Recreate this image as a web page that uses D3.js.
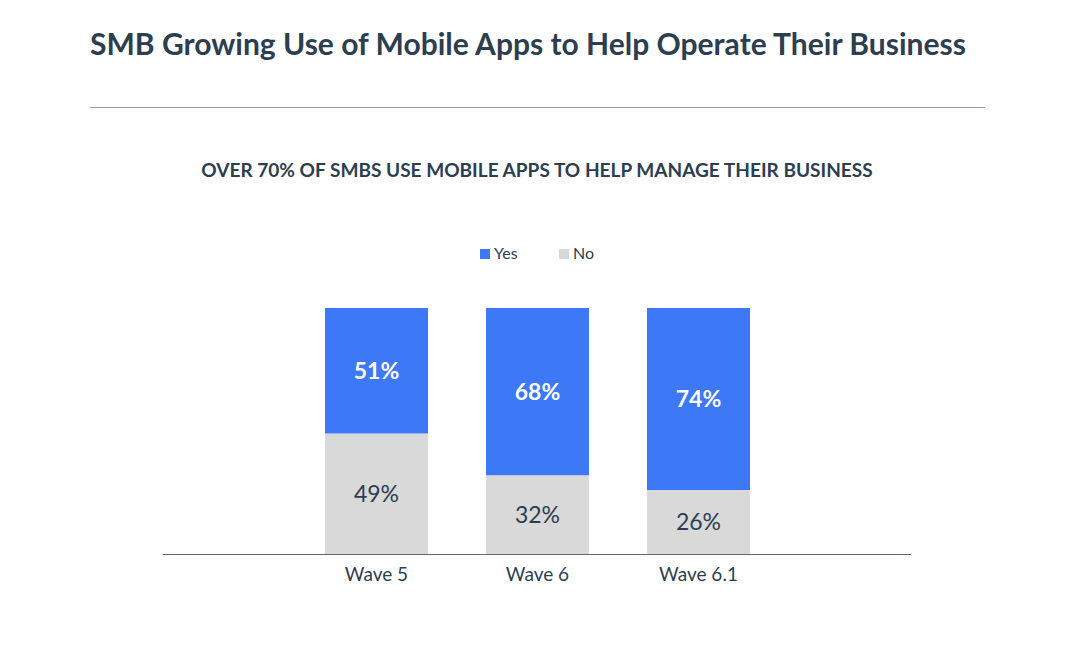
<!DOCTYPE html>
<html>
<head>
<meta charset="utf-8">
<script src="https://cdn.jsdelivr.net/npm/d3@7"></script>
<style>
  html, body { margin: 0; padding: 0; background: #fff; }
  svg { display: block; }
  text { font-family: Lato, "Open Sans", sans-serif; }
</style>
</head>
<body>
<div id="chart"></div>
<script>
const canvas = { w: 1070, h: 658 };

const categories = ["Wave 5", "Wave 6", "Wave 6.1"];
const seriesNames = ["Yes", "No"];
const yesValues = [51, 68, 74];
const noValues = [49, 32, 26];

const titleText = "SMB Growing Use of Mobile Apps to Help Operate Their Business";
const subtitleText = "OVER 70% OF SMBS USE MOBILE APPS TO HELP MANAGE THEIR BUSINESS";

const colors = { Yes: "#3d78f7", No: "#d9d9d9" };
const ink = "#2c3e50";

const rows = categories.map((c, i) => ({ wave: c, Yes: yesValues[i], No: noValues[i] }));
// No at the bottom, Yes stacked on top
const stack = d3.stack().keys(["No", "Yes"]);
const layers = stack(rows);

const svg = d3.select("#chart")
  .append("svg")
  .attr("width", canvas.w)
  .attr("height", canvas.h)
  .attr("viewBox", `0 0 ${canvas.w} ${canvas.h}`);

// fit text to a measured width from the reference
function fitWidth(sel, target) {
  const w = sel.node().getComputedTextLength();
  const fs = parseFloat(sel.attr("font-size"));
  sel.attr("font-size", fs * target / w);
}

const title = svg.append("text")
  .attr("x", 90)
  .attr("y", 55)
  .attr("font-size", 28)
  .attr("font-weight", 700)
  .attr("fill", ink)
  .text(titleText);
fitWidth(title, 876);

svg.append("line")
  .attr("x1", 90).attr("x2", 985)
  .attr("y1", 107.5).attr("y2", 107.5)
  .attr("stroke", "#97a1ad")
  .attr("stroke-width", 1);

const subtitle = svg.append("text")
  .attr("x", 537)
  .attr("y", 177)
  .attr("text-anchor", "middle")
  .attr("font-size", 17)
  .attr("font-weight", 700)
  .attr("fill", ink)
  .text(subtitleText);
fitWidth(subtitle, 672);

const x = d3.scaleBand()
  .domain(categories)
  .range([296, 779])
  .paddingInner(0.36)
  .paddingOuter(0.18);

const y = d3.scaleLinear()
  .domain([0, 100])
  .range([554, 308]);

// legend
const legend = svg.append("g").attr("transform", "translate(480,249)");
const legendX = [0, 79];
seriesNames.forEach((s, i) => {
  const g = legend.append("g").attr("transform", `translate(${legendX[i]},0)`);
  g.append("rect").attr("width", 10).attr("height", 10).attr("fill", colors[s]);
  g.append("text")
    .attr("x", 14).attr("y", 10)
    .attr("font-size", 16)
    .attr("fill", ink)
    .text(s);
});

// bars
const layerG = svg.append("g")
  .selectAll("g")
  .data(layers)
  .join("g")
  .attr("fill", d => colors[d.key]);

layerG.selectAll("rect")
  .data(d => d)
  .join("rect")
  .attr("x", d => x(d.data.wave))
  .attr("width", x.bandwidth())
  .attr("y", d => y(d[1]))
  .attr("height", d => y(d[0]) - y(d[1]));

layerG.selectAll("text")
  .data(d => d.map(p => ({ p, key: d.key })))
  .join("text")
  .attr("x", d => x(d.p.data.wave) + x.bandwidth() / 2)
  .attr("y", d => (y(d.p[0]) + y(d.p[1])) / 2)
  .attr("dy", "0.36em")
  .attr("text-anchor", "middle")
  .attr("font-size", 23)
  .attr("font-weight", d => d.key === "Yes" ? 700 : 400)
  .attr("fill", d => d.key === "Yes" ? "#ffffff" : ink)
  .text(d => `${d.p.data[d.key]}%`);

// axis
const axis = svg.append("g")
  .attr("transform", `translate(0,${y(0)})`)
  .call(d3.axisBottom(x).tickSize(0).tickPadding(14));
axis.select(".domain").remove();
axis.selectAll("text")
  .attr("font-size", 19)
  .attr("fill", ink)
  .attr("font-family", "Lato, \"Open Sans\", sans-serif");

svg.append("line")
  .attr("x1", 163).attr("x2", 911)
  .attr("y1", y(0) + 0.5).attr("y2", y(0) + 0.5)
  .attr("stroke", "#5e6878")
  .attr("stroke-width", 1.2);
</script>
</body>
</html>
